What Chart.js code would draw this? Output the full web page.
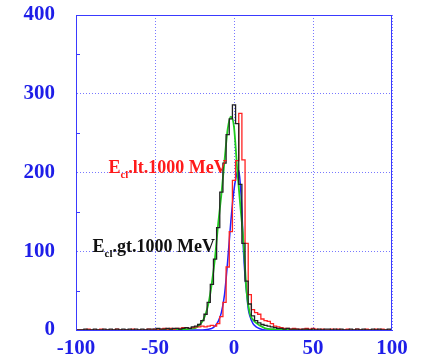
<!DOCTYPE html>
<html>
<head>
<meta charset="utf-8">
<script src="https://cdn.jsdelivr.net/npm/chart.js@4"></script>
<style>
	body { margin: 0; background: #ffffff; }
</style>
</head>
<body>
<canvas id="myChart" width="425" height="360"></canvas>
<script>
// bin centres, width 2, from -100 to 100
const binX = [];
for (let v = -100; v <= 100; v += 2) binX.push(v);

// E_cl > 1000 MeV (black histogram)
const blackCounts = [
	0, 0, 0, 1, 0, 0, 1, 0, 0, 1, 0, 1, 0, 1, 0, 1, 0, 1, 0, 1, 0, 1, 0, 1, 1,
	1, 2, 1, 1, 2, 1, 2, 2, 1, 2,
	3, 2, 4, 5, 7, 12, 20, 35, 58, 90,
	130, 175, 212, 248, 268, 286, 262, 185, 110, 62,
	33, 18, 12, 9, 7, 6, 5, 4, 3, 2,
	2, 1, 2, 1, 1, 1, 0, 1, 1, 0, 1,
	0, 1, 0, 1, 1, 0, 1, 0, 1, 0, 0, 1, 0, 1, 0, 1, 0, 0, 1, 0, 1, 0, 0, 1, 0,
];

// E_cl < 1000 MeV (red histogram)
const redCounts = [
	0, 0, 0, 0, 1, 0, 0, 0, 1, 0, 0, 0, 0, 1, 0, 0, 0, 0, 1, 0, 0, 0, 0, 1, 0,
	1, 1, 1, 2, 1, 2, 1, 2, 2, 3,
	3, 2, 3, 4, 4, 5, 4, 5, 6, 5,
	8, 17, 35, 80, 125, 190, 215, 275, 216, 110,
	45, 26, 22, 20, 14, 12, 11, 8, 5, 4,
	3, 2, 2, 1, 2, 1, 1, 1, 2, 1, 2,
	1, 0, 1, 0, 0, 1, 0, 1, 0, 0, 1, 0, 0, 1, 0, 0, 1, 0, 0, 1, 0, 1, 0, 0, 0,
];

// fitted curves
const greenX = [-50, -40, -30, -26, -24, -22, -20, -18, -16, -14, -12, -10, -8, -6, -4, -2, 0, 2, 4, 6, 8, 10, 12, 14, 16, 18, 20, 25, 30, 40, 50];
const greenY = [0, 0, 1, 2, 3, 6, 11, 20, 35, 60, 92, 135, 172, 215, 255, 271, 258, 205, 158, 112, 48, 21, 13, 9, 6, 4, 2, 1, 0, 0, 0];

const blueX = [-30, -20, -16, -14, -12, -10, -8, -6, -4, -2, 0, 2, 3, 4, 5, 6, 7, 8, 9, 10, 12, 14, 16, 20, 30];
const blueY = [0, 0, 1, 2, 5, 11, 22, 45, 88, 138, 178, 200, 203, 185, 152, 100, 68, 47, 27, 18, 8, 4, 2, 0, 0];

const notes = [
	{ x: -79.5, y: 199, color: "#ff1a1a", text: ".lt.1000 MeV" },
	{ x: -89.5, y: 99, color: "#111111", text: ".gt.1000 MeV" },
];

const toPoints = (xs, ys) => xs.map((x, i) => ({ x: x, y: ys[i] }));

const framePlugin = {
	id: "frame",
	afterDraw(chart) {
		const { ctx, chartArea, scales } = chart;
		ctx.save();
		ctx.strokeStyle = "#3a3aff";
		ctx.lineWidth = 1;
		ctx.strokeRect(chartArea.left + 0.5, chartArea.top + 0.5, chartArea.right - chartArea.left - 1, chartArea.bottom - chartArea.top);
		// minor ticks on the left axis
		ctx.beginPath();
		for (let v = 50; v < 400; v += 100) {
			const py = Math.round(scales.y.getPixelForValue(v)) + 0.5;
			ctx.moveTo(chartArea.left, py);
			ctx.lineTo(chartArea.left + 4, py);
		}
		ctx.stroke();
		ctx.restore();
	},
};

const labelPlugin = {
	id: "notes",
	afterDatasetsDraw(chart) {
		const { ctx, scales } = chart;
		ctx.save();
		ctx.textBaseline = "alphabetic";
		notes.forEach((n) => {
			let px = scales.x.getPixelForValue(n.x);
			const py = scales.y.getPixelForValue(n.y);
			ctx.fillStyle = n.color;
			ctx.font = 'bold 18px "Liberation Serif"';
			ctx.fillText("E", px, py);
			px += ctx.measureText("E").width;
			ctx.font = 'bold 11px "Liberation Serif"';
			ctx.fillText("cl", px, py + 5);
			px += ctx.measureText("cl").width;
			ctx.font = 'bold 18px "Liberation Serif"';
			ctx.fillText(n.text, px, py);
		});
		ctx.restore();
	},
};

const initChart = () => {
	const myChartCanvas = document.getElementById("myChart");
	const tickFont = { family: '"Liberation Serif"', size: 21, weight: "bold" };

	return new Chart(myChartCanvas, {
		type: "line",
		data: {
			datasets: [
				{
					data: toPoints(binX, blackCounts),
					stepped: "middle",
					borderColor: "#222222",
					borderWidth: 1.3,
					pointRadius: 0,
				},
				{
					data: toPoints(binX, redCounts),
					stepped: "middle",
					borderColor: "#ff2222",
					borderWidth: 1.3,
					pointRadius: 0,
				},
				{
					data: toPoints(greenX, greenY),
					cubicInterpolationMode: "monotone",
					borderColor: "#1fcc1f",
					borderWidth: 1.8,
					pointRadius: 0,
				},
				{
					data: toPoints(blueX, blueY),
					cubicInterpolationMode: "monotone",
					borderColor: "#2020ff",
					borderWidth: 1.5,
					pointRadius: 0,
				},
			],
		},
		options: {
			responsive: false,
			animation: false,
			layout: { padding: { left: 0, top: 15, right: 33, bottom: 0 } },
			scales: {
				x: {
					type: "linear",
					min: -100,
					max: 100,
					afterFit: (scale) => {
						scale.height = 30;
						scale.paddingLeft = 0;
						scale.paddingRight = 0;
					},
					ticks: { stepSize: 50, color: "#1e1ee8", font: tickFont, padding: 6, maxRotation: 0 },
					grid: { color: "#7878ff", drawTicks: false },
					border: { color: "#3a3aff", dash: [1, 2] },
				},
				y: {
					min: 0,
					max: 400,
					afterFit: (scale) => {
						scale.width = 76;
						scale.paddingTop = 0;
						scale.paddingBottom = 0;
					},
					ticks: { stepSize: 100, color: "#1e1ee8", font: tickFont, padding: 21 },
					grid: { color: "#7878ff", drawTicks: false },
					border: { color: "#3a3aff", dash: [1, 2] },
				},
			},
			plugins: {
				legend: { display: false },
				tooltip: { enabled: false },
			},
		},
		plugins: [labelPlugin, framePlugin],
	});
};

window.onload = () => {
	initChart();
};
</script>
</body>
</html>
